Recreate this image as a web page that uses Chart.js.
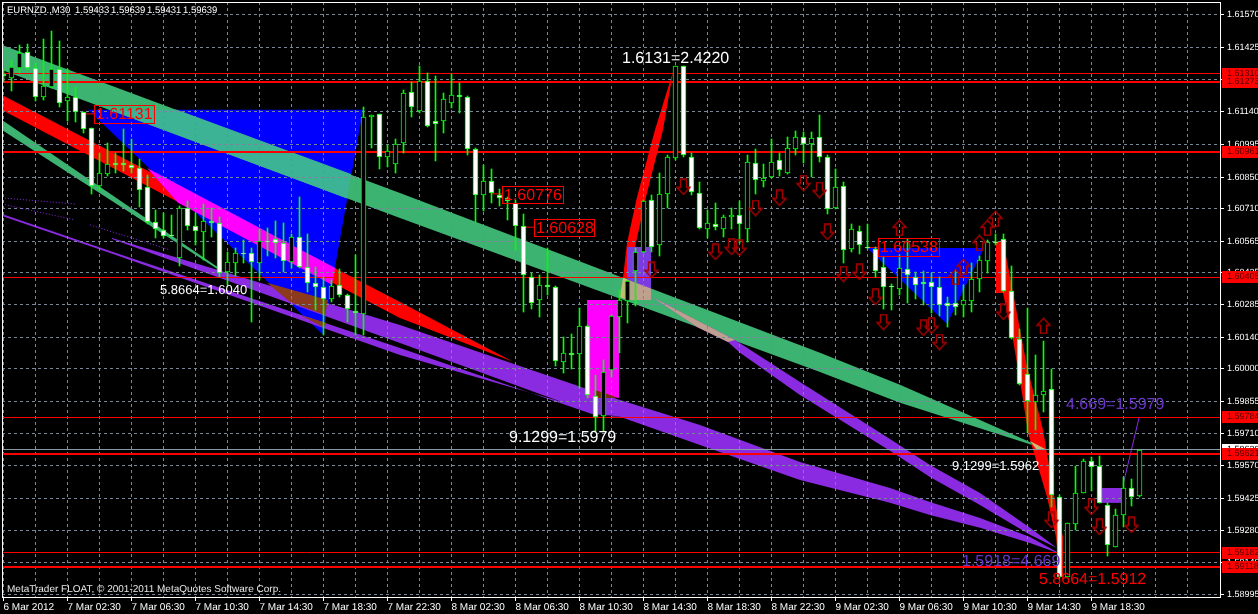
<!DOCTYPE html>
<html>
<head>
<meta charset="utf-8">
<title>EURNZD M30</title>
<script src="https://cdn.jsdelivr.net/npm/chart.js"></script>
<style>
    html, body { margin: 0; padding: 0; background: #000; overflow: hidden; }
    canvas { display: block; }
</style>
</head>
<body>
<canvas id="js--chart" width="1258" height="614"></canvas>
<script>
// all prices are in points (1.61329 = 161329), one candle per x unit
const opens = [
    161308,161289,161334,161405,161334,161205,161249,161329,161187,161205,
    161141,161067,160811,160864,160912,160912,160906,160890,160808,160650,
    160616,160594,160490,160715,160631,160605,160654,160645,160431,160471,
    160515,160512,160468,160568,160574,160557,160475,160586,160450,160379,
    160364,160309,160370,160329,160258,160243,161116,161129,160938,160907,
    161001,161230,161144,161275,161101,161101,161181,161214,161205,160974,
    160773,160835,160771,160758,160737,160631,160409,160305,160370,160364,
    160031,160068,160064,160190,159880,159790,159994,160231,160302,160432,
    160517,160748,160548,160774,160933,161344,160939,160779,160622,160641,
    160622,160671,160680,160622,160915,160835,160850,160927,160868,160977,
    161027,160996,161030,160941,160712,160813,160533,160613,160540,160530,
    160449,160367,160352,160441,160409,160383,160383,160361,160290,160290,
    160284,160302,160397,160480,160564,160574,160346,160130,159976,159852,
    159883,159910,159430,159075,159310,159448,159590,159568,159395,159208,
    159350,159470,159433
];
const highs = [
    161329,161371,161437,161442,161356,161462,161499,161455,161329,161249,
    161141,161067,160956,161001,160959,161063,161018,160930,160860,160705,
    160693,160682,160722,160743,160690,160731,160712,160675,160520,160534,
    160571,160534,160619,160623,160656,160645,160598,160761,160598,160449,
    160406,160394,160444,160332,160505,161163,161126,161129,160993,161018,
    161237,161274,161344,161312,161297,161223,161309,161267,161211,160979,
    160905,160885,160797,160764,160749,160686,160424,160416,160535,160367,
    160139,160154,160268,160194,159972,160039,160239,160350,160394,160535,
    160749,160771,160868,160949,161344,161344,160956,160829,160705,160734,
    160681,160712,160746,160948,160974,160909,161019,160959,161027,161053,
    161049,161049,161126,160949,160887,160830,160642,160634,160642,160542,
    160497,160376,160505,160574,160431,160434,160426,160409,160320,160438,
    160372,160468,160500,160571,160598,160598,160456,160175,160269,160061,
    160123,159999,159439,159315,159568,159599,159608,159612,159404,159377,
    159519,159510,159639
];
const lows = [
    161274,161234,161311,161326,161190,161193,161245,161163,161101,161097,
    161048,160776,160793,160856,160867,160879,160870,160719,160642,160580,
    160580,160583,160457,160616,160549,160483,160586,160409,160372,160412,
    160468,160209,160394,160500,160490,160431,160446,160446,160342,160261,
    160150,160298,160320,160209,160150,160150,160978,160885,160897,160870,
    160956,161116,161134,161072,160924,161048,161156,161137,160949,160653,
    160702,160737,160720,160660,160527,160253,160264,160231,160327,160012,
    159980,159997,159913,159869,159723,159723,159965,160071,160202,160279,
    160515,160520,160498,160712,160927,160939,160771,160622,160578,160616,
    160586,160620,160557,160560,160776,160808,160845,160853,160865,160949,
    160915,160850,160919,160687,160708,160471,160520,160509,160533,160409,
    160264,160261,160327,160293,160308,160283,160246,160234,160187,160238,
    160231,160252,160341,160426,160548,160338,160133,159928,159716,159728,
    159808,159386,159071,159075,159284,159448,159457,159404,159168,159208,
    159297,159390,159431
];
const closes = [
    161300,161341,161400,161334,161205,161255,161329,161178,161205,161138,
    161063,160811,160867,160907,160903,160906,160890,160793,160650,160619,
    160589,160589,160712,160631,160610,160657,160645,160426,160475,160515,
    160508,160475,160568,160561,160557,160480,160586,160450,160382,160364,
    160308,160367,160329,160264,160249,161116,161125,160938,160964,160996,
    161223,161163,161279,161079,161084,161196,161214,161208,160974,160770,
    160835,160779,160757,160742,160631,160415,160293,160370,160364,160034,
    160068,160060,160190,159883,159787,159984,160234,160305,160388,160517,
    160743,160539,160774,160939,161344,160948,160782,160626,160646,160628,
    160672,160681,160640,160916,160838,160848,160916,160881,160979,161027,
    160996,161023,160941,160708,160808,160527,160619,160548,160534,160435,
    160361,160361,160446,160415,160370,160375,160361,160281,160280,160275,
    160304,160398,160483,160562,160558,160346,160135,159931,159858,159883,
    159901,159439,159075,159315,159448,159590,159563,159404,159217,159350,
    159470,159430,159639
];

const xTicks = [0,4,8,12,16,20,24,28,32,36,40,44,48,52,56,60,64,68,72,76,80,84,88,92,96,100,104,108,112,116,120,124,128,132,136,140,144,148];
const xLabels = ['6 Mar 2012','','7 Mar 02:30','','7 Mar 06:30','','7 Mar 10:30','','7 Mar 14:30','','7 Mar 18:30','','7 Mar 22:30','',
    '8 Mar 02:30','','8 Mar 06:30','','8 Mar 10:30','','8 Mar 14:30','','8 Mar 18:30','','8 Mar 22:30','','9 Mar 02:30','',
    '9 Mar 06:30','','9 Mar 10:30','','9 Mar 14:30','','9 Mar 18:30','','',''];
const yTicks = [161570,161425,161285,161140,160995,160850,160710,160565,160425,160285,160140,160000,159855,159710,159570,159425,159280,159140,158995];

// horizontal lines and their tags on the price axis
const levels = [161310,161273,160961,160405,159784,159621,159182,159118];
const levelWidths = [1,2,2,1,1,2,1,2];
const lastPrice = 159639;

// arrows: candle number and price
const downArrows = [[81,160438],[85,160807],[89,160518],[91,160540],[92,160536],[94,160713],[97,160758],[100,160824],[102,160793],[103,160607],
    [105,160420],[107,160429],[109,160318],[110,160207],[115,160181],[116,160190],[117,160118],[125,160252],[131,159328],[136,159386],[137,159297],[141,159306]];
const upArrows = [[112,160625],[119,160407],[120,160452],[122,160558],[123,160625],[124,160665],[130,160190]];

// drawn objects, every edge as [candle, price]
const blueTop = [[10.56,161149],[44.94,161149]];
const blueBot = [[10.56,161149],[39.94,160150],[44.94,161149]];
const blue2Top = [[107.94,160536],[122.56,160536]];
const blue2Bot = [[107.94,160536],[117.94,160198],[122.56,160536]];
const greenTop = [[-0.2,161437],[49.56,160780],[102.06,160070],[112.06,159928],[130.56,159639]];
const greenBot = [[-0.2,161326],[49.56,160669],[102.06,159985],[112.06,159848],[130.56,159639]];
const green2Top = [[-0.2,161104],[27.31,160438]];
const green2Bot = [[-0.2,161060],[27.31,160429]];
const redTop = [[-0.2,161215],[49.56,160296],[63.69,160030]];
const redBot = [[-0.2,161149],[49.56,160225],[63.69,160030]];
const riseTop = [[77.44,160403],[77.94,160558],[79.19,160762],[81.44,161060],[83.69,161317]];
const riseBot = [[77.44,160403],[78.06,160403],[79.06,160558],[80.31,160762],[82.44,161060],[83.69,161317]];
const fallTop = [[124.06,160563],[124.94,160571],[127.94,160008],[129.94,159728],[131.69,159359],[132.44,159253]];
const fallBot = [[124.06,160336],[124.94,160336],[126.19,160127],[127.31,159892],[128.06,159715],[130.44,159430],[131.56,159253],[132.06,159075],[132.44,159075]];
const violetATop = [[13.56,160580],[49.56,160194],[73.31,159905],[77.06,159861],[87.06,159750],[99.56,159586],[110.81,159470],[115.81,159408],[122.06,159337],[128.31,159253],[131.69,159186]];
const violetABot = [[13.56,160576],[49.56,160114],[73.56,159803],[77.06,159786],[87.06,159661],[99.56,159506],[110.81,159404],[115.81,159350],[122.06,159293],[128.31,159226],[131.69,159182]];
const violetBTop = [[-0.2,160687],[13.69,160518],[49.56,160092],[73.56,159799],[77.06,159786]];
const violetBBot = [[-0.2,160678],[13.69,160509],[49.56,160061],[76.19,159786],[77.06,159786]];
const violetCTop = [[81.06,160318],[91.44,160127],[99.56,159941],[110.81,159688],[115.81,159572],[122.06,159448],[128.31,159293],[131.69,159204]];
const violetCBot = [[81.06,160318],[86.69,160185],[90.56,160118],[92.06,160070],[99.56,159883],[110.81,159635],[115.81,159519],[122.06,159395],[128.31,159262],[131.69,159204]];
const pinkTop = [[72.94,160305],[76.94,160305]];
const pinkBot = [[72.94,159870],[76.94,159870]];
const boxATop = [[77.94,160540],[80.94,160540]];
const boxABot = [[77.94,160305],[80.94,160305]];
const boxBTop = [[137.19,159470],[139.81,159470]];
const boxBBot = [[137.19,159404],[139.81,159404]];
// where two objects overlap the terminal mixes the colours
const tealTop = [[13.31,161149],[21.69,161149],[43.44,160864]];
const tealBot = [[13.31,161149],[42.94,160755],[43.44,160864]];
const magentaTop = [[17.94,160891],[41.44,160447]];
const magentaBot = [[17.94,160891],[21.81,160736],[41.06,160372],[41.44,160447]];
const brownTop = [[32.94,160381],[40.56,160305]];
const brownBot = [[32.94,160381],[35.81,160296],[40.19,160238],[40.56,160305]];
const brown2Top = [[37.06,160238],[40.44,160203]];
const brown2Bot = [[37.06,160238],[39.94,160185],[40.44,160203]];
const brown3Top = [[73.94,159905],[76.94,159870]];
const brown3Bot = [[73.94,159870],[76.94,159870]];
const tanTop = [[81.06,160318],[91.44,160127]];
const tanBot = [[81.06,160318],[86.69,160185],[90.56,160118],[91.44,160127]];
const tanBoxTop = [[77.94,160396],[80.94,160356]];
const tanBoxBot = [[77.94,160305],[80.94,160305]];
const sandTop = [[77.06,160318],[77.44,160403],[77.94,160399]];
const sandBot = [[77.06,160318],[77.94,160305]];
const sand2Top = [[128.31,159679],[130.44,159639]];
const sand2Bot = [[128.31,159679],[129.06,159643],[130.44,159639]];

// thin lines
const dots1 = [[-0.2,160758],[8.94,160731]];
const dots2 = [[-0.2,160731],[8.94,160660]];
const dots3 = [[10.81,160638],[20.81,160527]];
const trend = [[139.94,159484],[141.94,159781]];
const link1 = [[10.06,161131],[11.31,161131]];
const link2 = [[61.06,160776],[62.31,160776]];
const link3 = [[65.19,160628],[66.31,160628]];
const link4 = [[107.94,160538],[109.31,160538]];

const GREEN = '#3CB371', VIOLET = '#8A2BE2', RED = '#FF0000', GRID = '#778899';
const FONT = '"Liberation Sans", Arial, sans-serif';

const pts = arr => arr.map(p => ({x: p[0], y: p[1] / 1e5}));

const datasets = [];
let nextOrder = 1000;

function band(top, bot, color) {
    const order = nextOrder--;
    datasets.push({type: 'line', data: pts(top), borderWidth: 0, pointRadius: 0, backgroundColor: color, fill: '+1', order: order});
    datasets.push({type: 'line', data: pts(bot), borderWidth: 0, pointRadius: 0, fill: false, order: order});
}

function thinLine(data, color, width, dash) {
    datasets.push({type: 'line', label: 'thin', data: pts(data), borderColor: color, borderWidth: width, borderDash: dash || [],
        pointRadius: 0, fill: false, order: nextOrder--});
}

band(blueTop, blueBot, '#0000FF');
band(blue2Top, blue2Bot, '#0000FF');
band(greenTop, greenBot, GREEN);
band(green2Top, green2Bot, GREEN);
band(redTop, redBot, RED);
band(riseTop, riseBot, RED);
band(fallTop, fallBot, RED);
band(violetATop, violetABot, VIOLET);
band(violetBTop, violetBBot, VIOLET);
band(violetCTop, violetCBot, VIOLET);
band(pinkTop, pinkBot, '#FF00FF');
band(boxATop, boxABot, '#7B3BE0');
band(boxBTop, boxBBot, VIOLET);
band(tealTop, tealBot, '#3CB394');
band(magentaTop, magentaBot, '#FF00FF');
band(brownTop, brownBot, '#8B3A1E');
band(brown2Top, brown2Bot, '#8B3A1E');
band(brown3Top, brown3Bot, '#7A2A10');
band(tanTop, tanBot, '#BFA08E');
band(tanBoxTop, tanBoxBot, '#BFA08E');
band(sandTop, sandBot, '#C9BA7A');
band(sand2Top, sand2Bot, '#C9BA7A');

// grid goes over the objects but under the candles
datasets.push({type: 'line', label: 'grid', data: [], order: nextOrder--});

thinLine(dots1, VIOLET, 1, [1, 2]);
thinLine(dots2, VIOLET, 1, [1, 2]);
thinLine(dots3, VIOLET, 1, [1, 2]);
thinLine(trend, VIOLET, 1);
thinLine(link1, RED, 1);
thinLine(link2, RED, 1);
thinLine(link3, RED, 1);
thinLine(link4, RED, 1);

const xMin = -1.5 / 8, xMax = 1216.5 / 8;
datasets.push({type: 'line', label: 'level', data: [{x: xMin, y: lastPrice / 1e5}, {x: xMax, y: lastPrice / 1e5}],
    borderColor: '#8899A6', borderWidth: 1, pointRadius: 0, fill: false, order: nextOrder--});
levels.forEach((lv, i) => {
    datasets.push({type: 'line', label: 'level', data: [{x: xMin, y: lv / 1e5}, {x: xMax, y: lv / 1e5}],
        borderColor: RED, borderWidth: levelWidths[i], pointRadius: 0, fill: false, order: nextOrder--});
});

// candles
datasets.push({type: 'bar', label: 'candle', data: highs.map((h, i) => ({x: i, y: [lows[i] / 1e5, h / 1e5]})),
    backgroundColor: '#00FF00', barThickness: 1, grouped: false, order: 3});
datasets.push({type: 'bar', label: 'candle', data: opens.map((o, i) => ({x: i, y: [o / 1e5, closes[i] / 1e5]})),
    backgroundColor: opens.map((o, i) => closes[i] >= o ? '#000000' : '#FFFFFF'),
    borderColor: '#00FF00', borderWidth: 1, borderSkipped: false, barThickness: 5, grouped: false, order: 2});

function arrowSprite(up) {
    const c = document.createElement('canvas');
    c.width = 15;
    c.height = 17;
    const g = c.getContext('2d');
    g.strokeStyle = '#A80000';
    g.lineWidth = 1.4;
    if (up) {
        g.translate(0, 17);
        g.scale(1, -1);
    }
    g.beginPath();
    g.moveTo(4.5, 1);
    g.lineTo(10.5, 1);
    g.lineTo(10.5, 9);
    g.lineTo(14, 9);
    g.lineTo(7.5, 16);
    g.lineTo(1, 9);
    g.lineTo(4.5, 9);
    g.closePath();
    g.stroke();
    return c;
}

datasets.push({type: 'line', showLine: false, data: pts(downArrows), pointStyle: arrowSprite(false), pointRadius: 7, order: 1});
datasets.push({type: 'line', showLine: false, data: pts(upArrows), pointStyle: arrowSprite(true), pointRadius: 7, order: 1});

// text on the chart
const texts = [
    ['1.6131=2.4220', 622, 59, 16, '#FFFFFF'],
    ['5.8664=1.6040', 160, 290, 13, '#FFFFFF'],
    ['9.1299=1.5979', 509, 438, 16, '#FFFFFF'],
    ['9.1299=1.5962', 952, 466, 13, '#FFFFFF'],
    ['4.669=1.5979', 1066, 405, 16, '#6A35C8'],
    ['1.5918=4.669', 962, 562, 16, '#6A35C8'],
    ['5.8664=1.5912', 1039, 580, 16, '#FF0000']
];
const boxes = [
    ['1.61131', 94, 105, 60, 18],
    ['1.60776', 502, 186, 61, 17],
    ['1.60628', 534, 219, 60, 17],
    ['1.60538', 878, 238, 61, 18]
];

const mt4Plugin = {
    id: 'mt4',
    beforeDraw(chart) {
        chart.ctx.textRendering = 'geometricPrecision';
        chart.ctx.fillStyle = '#000';
        chart.ctx.fillRect(0, 0, chart.width, chart.height);
    },
    afterDatasetsUpdate(chart) {
        // terminal draws on whole pixels
        chart.data.datasets.forEach((d, i) => {
            const meta = chart.getDatasetMeta(i);
            if (d.label === 'candle') {
                meta.data.forEach(el => {
                    el.y = Math.round(el.y);
                    el.base = Math.round(el.base);
                });
            } else if (d.label === 'level') {
                const off = d.borderWidth === 1 ? 0.5 : 0;
                meta.data.forEach(el => { el.y = Math.round(el.y - off) + off; });
            }
        });
    },
    beforeDatasetDraw(chart, args) {
        if (chart.data.datasets[args.index].label === 'grid') {
            chart.scales.x.drawGrid(chart.chartArea);
            chart.scales.y.drawGrid(chart.chartArea);
        }
    },
    afterDatasetsDraw(chart) {
        const ctx = chart.ctx;
        ctx.save();
        ctx.textBaseline = 'middle';
        ctx.textAlign = 'left';
        texts.forEach(t => {
            ctx.font = t[3] + 'px ' + FONT;
            ctx.fillStyle = t[4];
            ctx.fillText(t[0], t[1], t[2]);
        });
        ctx.font = '16px ' + FONT;
        ctx.strokeStyle = RED;
        ctx.lineWidth = 1;
        boxes.forEach(b => {
            ctx.strokeRect(b[1] + 0.5, b[2] + 0.5, b[3], b[4]);
            ctx.fillStyle = RED;
            ctx.fillText(b[0], b[1] + 2, b[2] + b[4] / 2 + 1);
        });
        ctx.font = '9.5px ' + FONT;
        ctx.fillStyle = '#FFFFFF';
        ctx.fillText('EURNZD.,M30', 7, 10);
        ['1.59433', '1.59639', '1.59431', '1.59639'].forEach((s, i) => ctx.fillText(s, 75 + 36 * i, 10));
        ctx.font = '10px ' + FONT;
        ctx.fillStyle = '#E8E8E8';
        ctx.fillText('MetaTrader FLOAT, \u00A9 2001-2011 MetaQuotes Software Corp.', 7, 589);
        ctx.restore();
    },
    afterDraw(chart) {
        const ctx = chart.ctx, area = chart.chartArea, y = chart.scales.y;
        ctx.save();
        // plot frame
        ctx.strokeStyle = '#FFFFFF';
        ctx.lineWidth = 1;
        ctx.strokeRect(area.left + 0.5, area.top + 0.5, area.right - area.left, area.bottom - area.top);
        // price tags
        ctx.font = '9px ' + FONT;
        ctx.textBaseline = 'middle';
        const tag = (price, bg, fg) => {
            const py = Math.round(y.getPixelForValue(price / 1e5));
            ctx.fillStyle = bg;
            ctx.fillRect(area.right + 2, py - 6, 38, 12);
            ctx.fillStyle = fg;
            ctx.fillText((price / 1e5).toFixed(5), area.right + 7, py);
        };
        tag(lastPrice, '#FFFFFF', '#000000');
        levels.forEach(lv => tag(lv, RED, '#500000'));
        ctx.restore();
    }
};

new Chart(document.getElementById('js--chart'), {
    type: 'bar',
    data: {datasets: datasets},
    plugins: [mt4Plugin],
    options: {
        responsive: false,
        animation: false,
        devicePixelRatio: 1,
        events: [],
        layout: {autoPadding: false, padding: {left: 2, top: 2, right: 0, bottom: 0}},
        plugins: {legend: {display: false}, tooltip: {enabled: false}},
        scales: {
            x: {
                type: 'linear',
                offset: false,
                min: xMin,
                max: xMax,
                afterBuildTicks: s => { s.ticks = xTicks.map(v => ({value: v})); },
                afterFit: s => { s.height = 17; s.paddingLeft = 0; s.paddingRight = 0; },
                border: {display: false, dash: [3, 3]},
                grid: {
                    offset: false,
                    color: GRID,
                    tickColor: c => (c.index % 2 === 0 && c.index < 35) ? '#FFFFFF' : 'transparent',
                    tickLength: 4,
                    tickBorderDash: []
                },
                ticks: {
                    autoSkip: false,
                    maxRotation: 0,
                    align: 'start',
                    padding: 0,
                    color: '#FFFFFF',
                    font: {family: FONT, size: 10},
                    callback: (v, i) => xLabels[i]
                }
            },
            y: {
                position: 'right',
                min: 1.589861,
                max: 1.616277,
                afterBuildTicks: s => { s.ticks = yTicks.map(v => ({value: v / 1e5})); },
                afterFit: s => { s.width = 38; s.paddingTop = 0; s.paddingBottom = 0; },
                border: {display: false, dash: [3, 3]},
                grid: {color: GRID, tickColor: '#FFFFFF', tickLength: 4, tickBorderDash: []},
                ticks: {
                    autoSkip: false,
                    padding: 3,
                    color: '#FFFFFF',
                    font: {family: FONT, size: 9},
                    callback: v => v.toFixed(5)
                }
            }
        }
    }
});
</script>
</body>
</html>
